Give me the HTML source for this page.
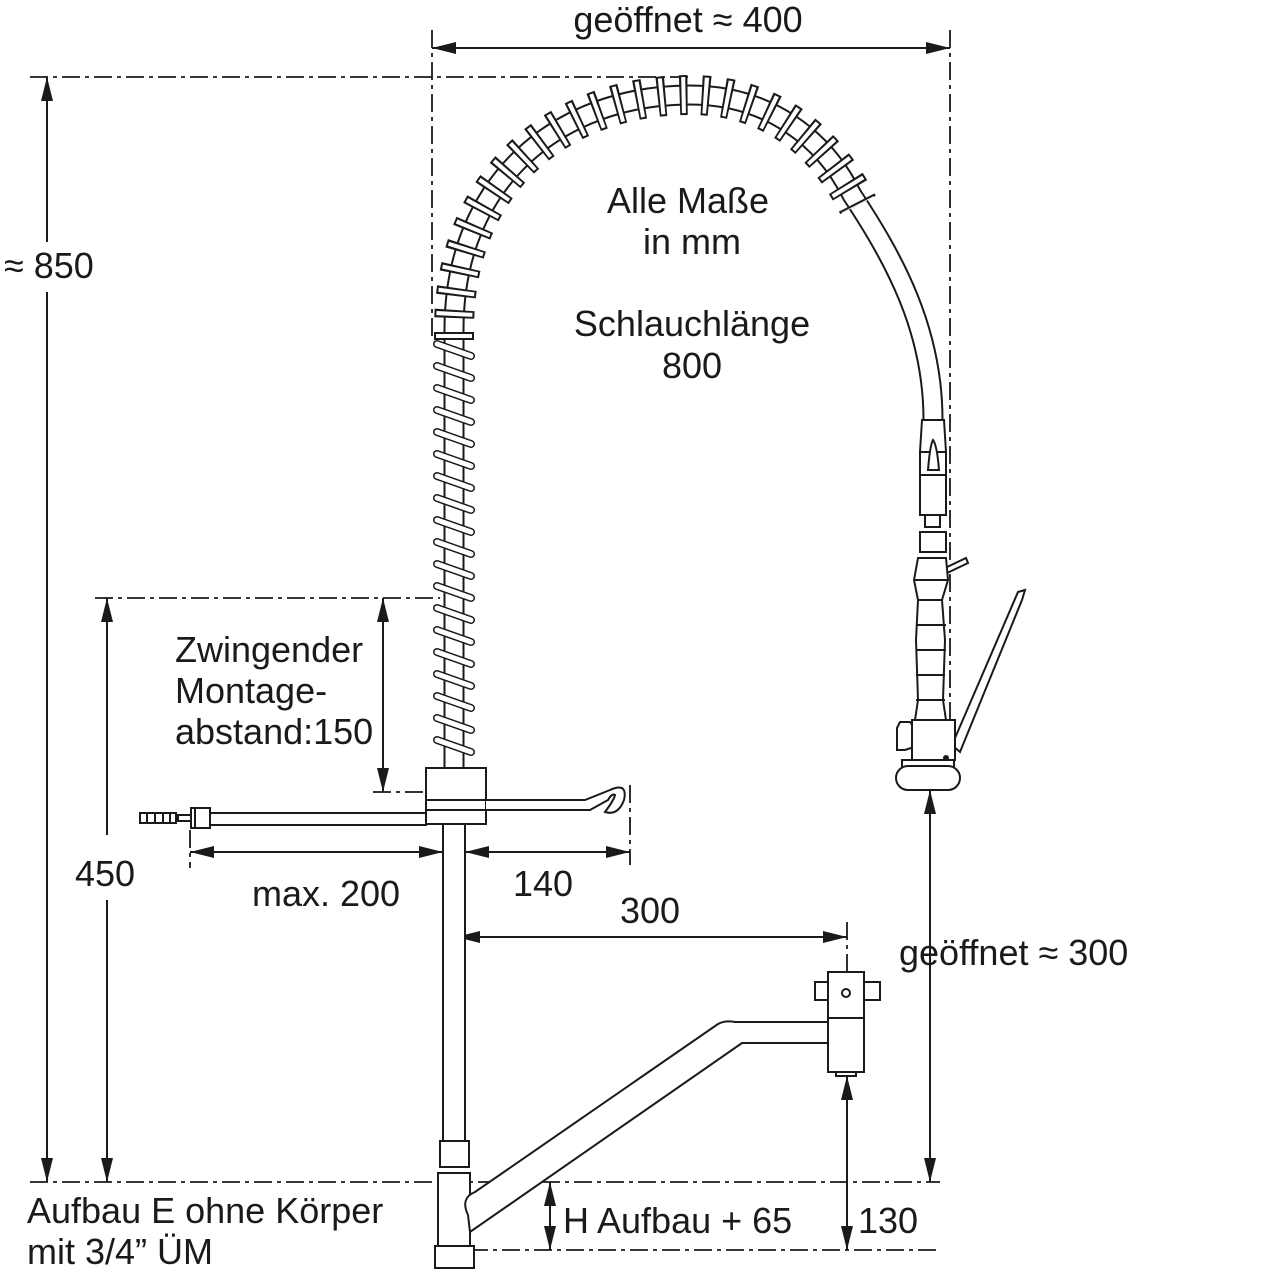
<!DOCTYPE html>
<html><head><meta charset="utf-8"><style>
html,body{margin:0;padding:0;background:#fff}
svg{display:block}
text{font-family:"Liberation Sans",Arial,sans-serif;fill:#1a1a1a;font-size:36px}
</style></head><body>
<svg width="1280" height="1280" viewBox="0 0 1280 1280" xmlns="http://www.w3.org/2000/svg">
<defs>
<marker id="a" markerWidth="24" markerHeight="12" refX="24" refY="6" orient="auto-start-reverse" markerUnits="userSpaceOnUse"><path d="M0,0 L24,6 L0,12 Z" fill="#1a1a1a"/></marker>
<g id="coil"><path d="M437,-6 L471,6" stroke="#1a1a1a" stroke-width="8" stroke-linecap="round" fill="none"/><path d="M437,-6 L471,6" stroke="#fff" stroke-width="5" stroke-linecap="round" fill="none"/></g>
</defs>
<g stroke="#1a1a1a" fill="none" stroke-width="2">
<g stroke-dasharray="18 5 4 5" stroke-width="1.8">
<path d="M30,77 H690"/>
<path d="M432,30 V340"/>
<path d="M950,30 V725"/>
<path d="M95,598 H440"/>
<path d="M373,792 H426"/>
<path d="M190,830 V868"/>
<path d="M630,785 V865"/>
<path d="M847,922 V972"/>
<path d="M30,1182 H940"/>
<path d="M470,1250 H940"/>
</g>
<path d="M432,48 H950" marker-start="url(#a)" marker-end="url(#a)"/>
<path d="M47,77 V242" marker-start="url(#a)"/>
<path d="M47,292 V1182" marker-end="url(#a)"/>
<path d="M107,598 V835" marker-start="url(#a)"/>
<path d="M107,900 V1182" marker-end="url(#a)"/>
<path d="M383,598 V792" marker-start="url(#a)" marker-end="url(#a)"/>
<path d="M190,852 H443" marker-start="url(#a)" marker-end="url(#a)"/>
<path d="M465,852 H630" marker-start="url(#a)" marker-end="url(#a)"/>
<path d="M455,937 H847" marker-end="url(#a)"/>
<path d="M456,937 H480" marker-start="url(#a)"/>
<path d="M930,790 V1182" marker-start="url(#a)" marker-end="url(#a)"/>
<path d="M550,1182 V1250" marker-start="url(#a)" marker-end="url(#a)"/>
<path d="M847,1076 V1250" marker-start="url(#a)" marker-end="url(#a)"/>

<path d="M454,768 L454,330 C454,180 560,95 690,95 C770,95 825,140 852,195 C895,260 933,330 933,420" stroke-width="21"/>
<path d="M454,768 L454,330 C454,180 560,95 690,95 C770,95 825,140 852,195 C895,260 933,330 933,420" stroke="#fff" stroke-width="17"/>
<path d="M454,340 L454,330 C454,180 560,95 690,95 C770,95 825,140 858,205" stroke-width="40" stroke-dasharray="8 14"/>
<path d="M454,340 L454,330 C454,180 560,95 690,95 C770,95 825,140 858,205" stroke="#fff" stroke-width="36" stroke-dasharray="4 18" stroke-dashoffset="-2"/>
</g>
<g>
<use href="#coil" y="350"/><use href="#coil" y="372"/><use href="#coil" y="394"/><use href="#coil" y="416"/><use href="#coil" y="438"/><use href="#coil" y="460"/><use href="#coil" y="482"/><use href="#coil" y="504"/><use href="#coil" y="526"/><use href="#coil" y="548"/><use href="#coil" y="570"/><use href="#coil" y="592"/><use href="#coil" y="614"/><use href="#coil" y="636"/><use href="#coil" y="658"/><use href="#coil" y="680"/><use href="#coil" y="702"/><use href="#coil" y="724"/><use href="#coil" y="746"/>
</g>
<g stroke="#1a1a1a" fill="#fff" stroke-width="2">
<rect x="426" y="768" width="60" height="56"/>
<path d="M426,800 H486 M426,810 H486" fill="none"/>
<rect x="443" y="824" width="22" height="318"/>
<rect x="210" y="813" width="216" height="12"/>
<rect x="191" y="808" width="19" height="20"/>
<path d="M195,808 V828" fill="none"/>
<rect x="178" y="815" width="13" height="6"/>
<rect x="140" y="813" width="36" height="10"/>
<path d="M147,813 V823 M155,813 V823 M163,813 V823 M170,813 V823" fill="none"/>
<path d="M486,800 H585 L610,790 Q628,782 624,800 Q618,816 605,812 Q614,800 615,795 Q612,793 608,800 L590,810 H486" fill="#fff"/>
<rect x="440" y="1141" width="29" height="26"/>
<rect x="438" y="1173" width="32" height="73"/>
<rect x="435" y="1246" width="39" height="22"/>
<path d="M468,1215 Q460,1198 475,1192 L718,1024 Q725,1020 735,1022 H830 Q838,1032 830,1043 H742 L470,1232 Z"/>
<rect x="828" y="1018" width="36" height="54"/>
<rect x="815" y="982" width="65" height="18"/>
<rect x="828" y="972" width="36" height="46"/>
<circle cx="846" cy="993" r="4"/>
<rect x="836" y="1072" width="20" height="4"/>
<path d="M922,420 H944 L946,452 V515 H920 V452 Z"/>
<path d="M920,452 H946 M920,475 H946" fill="none"/>
<path d="M928,470 Q930,445 933,440 Q937,445 939,470 Z"/>
<rect x="925" y="515" width="15" height="12"/>
<rect x="920" y="532" width="26" height="20"/>
<path d="M924,578 L966,558 L968,563 L926,583 Z"/>
<path d="M918,558 H946 L948,580 L942,600 L945,640 L943,700 L946,720 H915 L918,700 L916,640 L918,600 L914,580 Z"/>
<path d="M915,580 H948 M918,600 H942 M916,625 H946 M916,650 H946 M916,675 H945 M916,700 H945" fill="none"/>
<path d="M952,745 L1018,592 L1025,590 L1022,600 L960,752 Z"/>
<path d="M900,722 H910 L920,735 V745 L905,750 H897 V728 Z"/>
<path d="M912,720 H955 V760 H912 Z"/>
<rect x="902" y="760" width="52" height="8"/>
<rect x="896" y="766" width="64" height="24" rx="12"/>
</g>
<circle cx="946" cy="758" r="3" fill="#1a1a1a"/>
<text x="688" y="32" text-anchor="middle">geöffnet ≈ 400</text>
<text x="4" y="278">≈ 850</text>
<text x="688" y="213" text-anchor="middle">Alle Maße</text>
<text x="692" y="254" text-anchor="middle">in mm</text>
<text x="692" y="336" text-anchor="middle">Schlauchlänge</text>
<text x="692" y="378" text-anchor="middle">800</text>
<text x="175" y="662">Zwingender</text>
<text x="175" y="703">Montage-</text>
<text x="175" y="744">abstand:150</text>
<text x="75" y="886">450</text>
<text x="252" y="906">max. 200</text>
<text x="513" y="896">140</text>
<text x="620" y="923">300</text>
<text x="899" y="965">geöffnet ≈ 300</text>
<text x="27" y="1223">Aufbau E ohne Körper</text>
<text x="27" y="1264">mit 3/4” ÜM</text>
<text x="563" y="1233">H Aufbau + 65</text>
<text x="858" y="1233">130</text>
</svg>
</body></html>
